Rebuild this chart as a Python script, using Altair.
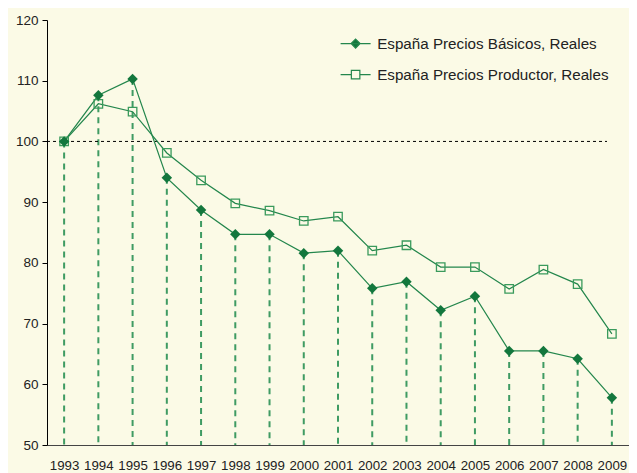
import altair as alt
import pandas as pd

years = [str(y) for y in range(1993, 2010)]
basic = [100, 107.6, 110.3, 94.0, 88.7, 84.7, 84.7, 81.6, 82.0, 75.8, 76.9, 72.2, 74.5, 65.5, 65.5, 64.2, 57.8]
producer = [100, 106.2, 104.9, 98.1, 93.6, 89.8, 88.6, 86.9, 87.6, 82.0, 82.9, 79.3, 79.3, 75.7, 78.9, 76.5, 68.3]
series_names = ["España Precios Básicos, Reales", "España Precios Productor, Reales"]
ref_value = 100
y_ticks = [50, 60, 70, 80, 90, 100, 110, 120]

BG = "#FBFAE6"
DARK = "#13773D"
LINE = "#23864C"
SQ = "#3A9A5C"
DASH = "#3F9B63"

df = pd.DataFrame({
    "year": years * 2,
    "value": basic + producer,
    "series": [series_names[0]] * len(years) + [series_names[1]] * len(years),
})
df_basic = pd.DataFrame({"year": years, "value": basic, "base": [y_ticks[0]] * len(years)})
df_ref = pd.DataFrame({"v": [ref_value]})

xs = alt.X("year:O", scale=alt.Scale(type="point", padding=0.5),
           axis=alt.Axis(title=None, labelAngle=0, labelAlign="center", ticks=False, labelPadding=20,
                         labelFontSize=13.3, domainColor="#444", labelColor="#222",
                         labelFont="Liberation Sans"))
ys = alt.Y("value:Q", scale=alt.Scale(domain=[50, 120], nice=False, zero=False),
           axis=alt.Axis(title=None, values=y_ticks, grid=False, tickSize=5, labelPadding=4,
                         labelFontSize=13.5, domainColor="#000", tickColor="#000",
                         labelColor="#222", labelFont="Liberation Sans"))

drops = alt.Chart(df_basic).mark_rule(color=DASH, strokeWidth=2, strokeDash=[6, 5]).encode(
    x=alt.X("year:O"), y=alt.Y("value:Q"), y2=alt.Y2("base:Q"))

hline = alt.Chart(df_ref).mark_rule(
    color="#000", strokeWidth=1, strokeDash=[3, 3]).encode(
    x=alt.value(0), x2=alt.value(560), y=alt.Y("v:Q"))

lines = alt.Chart(df).mark_line(color=LINE, strokeWidth=1.2).encode(
    x=xs, y=ys, detail="series:N")

pts_b = alt.Chart(df).transform_filter(alt.datum.series == series_names[0]).mark_point(
    shape="diamond", size=110, filled=True, color=DARK, opacity=1).encode(x="year:O", y="value:Q")
pts_p = alt.Chart(df).transform_filter(alt.datum.series == series_names[1]).mark_point(
    shape="square", size=72, filled=False, color=SQ, strokeWidth=1.3, opacity=1).encode(x="year:O", y="value:Q")

path_b = "M-3,0H3M0,-0.9L0.9,0L0,0.9L-0.9,0Z"
path_p = "M-3,0H-0.85M0.85,0H3M-0.85,-0.85H0.85V0.85H-0.85Z"
leg_common = dict(orient="none", legendX=301, legendY=16, title=None, labelFontSize=15.2,
                  labelFont="Liberation Sans", labelColor="#222", symbolSize=100, labelLimit=0,
                  symbolStrokeWidth=1.2, rowPadding=15, labelOffset=14)
legend_layer = alt.Chart(df).transform_filter("datum.value < 0").mark_point(opacity=1).encode(
    x="year:O", y="value:Q",
    shape=alt.Shape("series:N", scale=alt.Scale(domain=series_names, range=[path_b, path_p]),
                    legend=alt.Legend(**leg_common)),
    fill=alt.Fill("series:N", scale=alt.Scale(domain=series_names, range=[DARK, "transparent"]),
                  legend=alt.Legend(**leg_common)),
    stroke=alt.Stroke("series:N", scale=alt.Scale(domain=series_names, range=[LINE, LINE]),
                      legend=alt.Legend(**leg_common)),
)

chart = alt.layer(drops, hline, lines, pts_p, pts_b, legend_layer).properties(
    width=582, height=425, background=BG,
    padding={"left": 39, "top": 12, "right": 0, "bottom": 40},
    autosize=alt.AutoSizeParams(type="none"),
).configure_view(stroke=None)

chart.save("out.html", embed_options={"renderer": "svg", "actions": False})
